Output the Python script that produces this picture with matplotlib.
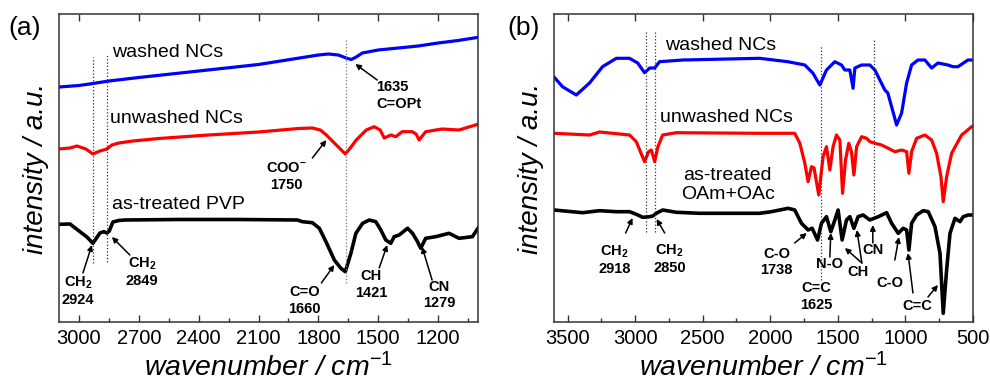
import matplotlib
matplotlib.use("Agg")
import matplotlib.pyplot as plt
from matplotlib.ticker import MultipleLocator

plt.rcParams['font.family'] = ['Liberation Sans', 'DejaVu Sans']
plt.rcParams['mathtext.fontset'] = 'custom'
plt.rcParams['mathtext.rm'] = 'Liberation Sans'
plt.rcParams['mathtext.it'] = 'Liberation Sans:italic'
plt.rcParams['mathtext.bf'] = 'Liberation Sans:bold'

## data, panel (a): PVP capped NCs
wnA_washed = [3100, 3000, 2930, 2850, 2700, 2400, 2100, 1800, 1750, 1700, 1660, 1635, 1610, 1580,
              1500, 1400, 1300, 1200, 1100, 1005]
intA_washed = [235, 236.5, 238.5, 241, 244.5, 251, 257.5, 267, 268, 267, 264, 262.5, 265, 269,
               272, 274, 276, 279, 281.5, 284.5]

wnA_unwashed = [3100, 3045, 3010, 2965, 2930, 2895, 2860, 2835, 2800, 2730, 2600, 2350, 2100, 1900,
                1830, 1790, 1760, 1720, 1690, 1665, 1640, 1610, 1560, 1520, 1490, 1470, 1437, 1412,
                1380, 1330, 1310, 1295, 1262, 1180, 1095, 1005]
intA_unwashed = [173, 174, 176, 173, 168, 171, 173, 177, 179, 181, 183.5, 187, 190, 193.5,
                 194, 192, 187, 179, 173, 168, 174, 182, 192, 195.3, 192, 184, 187, 185.3,
                 190.3, 190.3, 188, 182, 190.3, 193, 192, 197.5]

wnA_pvp = [3100, 3045, 2995, 2960, 2930, 2895, 2875, 2860, 2848, 2830, 2800, 2770, 2500, 2200,
           1905, 1880, 1830, 1795, 1762, 1720, 1687, 1665, 1637, 1612, 1578, 1545, 1512, 1487,
           1462, 1437, 1420, 1395, 1353, 1328, 1303, 1287, 1262, 1212, 1145, 1095, 1028, 1000]
intA_pvp = [97.7, 98, 90.3, 85, 78.7, 89, 90.3, 89, 91, 100, 101.5, 102, 102.5, 102.5,
            102, 100.3, 99.3, 93.7, 80.3, 62, 53.7, 50.3, 68.7, 88.7, 98.7, 102, 100.3, 92,
            82, 78.7, 85.3, 87, 93.7, 88.7, 80.3, 73.7, 83.7, 85.3, 88.7, 83.7, 85.3, 93.7]

## data, panel (b): OAm+OAc capped NCs
wnB_washed = [3600, 3537, 3435, 3337, 3241, 3139, 3041, 2981, 2930, 2892, 2855, 2819, 2648, 2078,
              1870, 1744, 1685, 1633, 1584, 1522, 1473, 1448, 1411, 1387, 1374, 1324, 1263, 1226,
              1189, 1152, 1130, 1102, 1065, 1028, 991, 954, 907, 856, 806, 759, 685, 648, 611,
              537, 500]
intB_washed = [245, 235.3, 227, 239, 255.3, 263.7, 263.7, 259, 249.3, 254, 254, 260.3, 262, 263.7,
               260.3, 257, 249, 237, 252, 260.3, 257, 252, 252, 233.7, 254, 257, 257, 252,
               242, 232, 229, 215.3, 197, 209, 239, 257, 262, 262, 254, 259, 257, 255.3, 255.3,
               262, 262]

wnB_unwashed = [3600, 3337, 3263, 3041, 2991, 2961, 2930, 2900, 2880, 2855, 2831, 2796, 2695, 2078,
                1819, 1781, 1744, 1720, 1695, 1676, 1641, 1609, 1584, 1559, 1535, 1510, 1485, 1465,
                1443, 1419, 1399, 1381, 1361, 1324, 1287, 1263, 1226, 1176, 1127, 1078, 1028, 991,
                974, 954, 917, 856, 806, 769, 737, 720, 695, 658, 584, 510, 500]
intB_unwashed = [188.7, 187, 190, 187, 180.3, 170.3, 160.3, 170.3, 172, 160.3, 175.3, 187, 189.3, 188.7,
                 188.7, 178.7, 158.7, 140.3, 155.3, 154, 127, 165.3, 175.3, 152, 175.3, 187, 182, 128.7,
                 162, 178.7, 170.3, 147, 175.3, 185.3, 183.7, 180.3, 178.7, 177, 173.7, 170.3, 172, 170.3,
                 148.7, 170.3, 183.7, 187, 182, 168.7, 145.3, 120.3, 145.3, 168.7, 187, 195.3, 196]

wnB_oam = [3600, 3389, 3263, 3139, 3041, 2991, 2944, 2892, 2868, 2843, 2796, 2695, 2522, 2078,
           1991, 1868, 1819, 1769, 1720, 1690, 1650, 1621, 1584, 1552, 1522, 1498, 1468, 1436,
           1411, 1381, 1350, 1313, 1263, 1201, 1139, 1102, 1053, 1016, 991, 974, 954, 917,
           868, 831, 781, 744, 720, 695, 670, 633, 596, 572, 535, 500]
intB_oam = [112, 109.3, 111.3, 110.3, 110.3, 107.7, 104.7, 105.3, 106, 108.7, 112, 109.7, 108.7, 108.7,
            110.3, 113.7, 112, 98.7, 92, 93.7, 82, 98.7, 105.3, 90.3, 102, 112, 82, 102,
            105.3, 93.7, 105.3, 107, 102, 105.3, 109.3, 98.7, 88.7, 93.7, 92, 72, 98.7, 107,
            111.3, 110.3, 95.3, 68.7, 8.7, 52, 88.7, 103.7, 100.3, 105.3, 107, 107]

fig = plt.figure(figsize=(9.9, 3.87), dpi=100)
axA = fig.add_axes([0.0596, 0.168, 0.4232, 0.7958])
axB = fig.add_axes([0.5596, 0.168, 0.4232, 0.7958])

def styleAxis(ax, xmin, xmax, major, minor):
    ax.set_xlim(xmin, xmax)
    ax.set_ylim(0, 308)
    ax.xaxis.set_major_locator(MultipleLocator(major))
    ax.xaxis.set_minor_locator(MultipleLocator(minor))
    ax.tick_params(axis='x', which='major', direction='in', length=5, width=1, top=True,
                   labelsize=14.5, pad=5, color='#333333')
    ax.tick_params(axis='x', which='minor', direction='in', length=3, width=1, top=False,
                   color='#333333')
    ax.set_yticks([])
    for s in ax.spines.values():
        s.set_linewidth(1.1)
        s.set_color('#333333')
    ax.set_xlabel(r"wavenumber / cm$^{\mathit{-1}}$", fontsize=20.5, style='italic', labelpad=4)
    ax.set_ylabel("intensity / a.u.", fontsize=20, style='italic', labelpad=7)

def arrow(ax, tail, tip):
    ax.annotate('', xy=tip, xytext=tail,
                arrowprops=dict(arrowstyle='-|>', color='k', lw=1.1, mutation_scale=8,
                                shrinkA=0, shrinkB=0))

bold = dict(fontsize=10.5, fontweight='bold', ha='center', va='center', linespacing=1.2)
lbl = dict(fontsize=14, va='center')

## panel (a)
styleAxis(axA, 3100, 1000, 300, 150)
axA.plot(wnA_washed, intA_washed, color='#0000ff', lw=2.3)
axA.plot(wnA_unwashed, intA_unwashed, color='#ff0000', lw=2.3)
axA.plot(wnA_pvp, intA_pvp, color='k', lw=2.6)
axA.vlines([2930, 2860], [59, 60], [265, 267], colors='#333333', linestyles=':', lw=0.9)
axA.vlines([1660], [39], [284], colors='#777777', linestyles=':', lw=0.9)

axA.text(2835, 270, "washed NCs", **lbl)
axA.text(2845, 204, "unwashed NCs", **lbl)
axA.text(2835, 117, "as-treated PVP", **lbl)

axA.text(1510, 226.5, "1635\nC=OPt", fontsize=10.5, fontweight='bold', ha='left', va='center', linespacing=1.25)
arrow(axA, (1505, 242), (1615, 258))
axA.text(1960, 145.5, "COO$^{\\mathbf{-}}$\n1750", **bold)
arrow(axA, (1830, 164), (1760, 182))
axA.text(3005, 31, "CH$_{\\mathbf{2}}$\n2924", **bold)
arrow(axA, (2980, 49), (2935, 77))
axA.text(2685, 50, "CH$_{\\mathbf{2}}$\n2849", **bold)
arrow(axA, (2745, 67), (2835, 85))
axA.text(1870, 21.5, "C=O\n1660", **bold)
arrow(axA, (1785, 39), (1720, 57))
axA.text(1535, 37.5, "CH\n1421", **bold)
arrow(axA, (1495, 54), (1455, 77))
axA.text(1195, 27, "CN\n1279", **bold)
arrow(axA, (1230, 42), (1280, 75))

## panel (b)
styleAxis(axB, 3600, 500, 500, 250)
axB.plot(wnB_washed, intB_washed, color='#0000ff', lw=2.3)
axB.plot(wnB_unwashed, intB_unwashed, color='#ff0000', lw=2.3)
axB.plot(wnB_oam, intB_oam, color='k', lw=2.6)
axB.vlines([2918, 2850], [90, 90], [292, 292], colors='#333333', linestyles=':', lw=0.9)
axB.vlines([1625, 1231], [42, 105], [277, 282], colors='#333333', linestyles=':', lw=0.9)

axB.text(2781, 277, "washed NCs", **lbl)
axB.text(2819, 205, "unwashed NCs", **lbl)
axB.text(2315, 137, "as-treated\nOAm+OAc", fontsize=14, ha='center', va='center', linespacing=1.1)

axB.text(3152, 62.5, "CH$_{\\mathbf{2}}$\n2918", **bold)
arrow(axB, (3070, 89), (3019, 104))
axB.text(2744, 63.5, "CH$_{\\mathbf{2}}$\n2850", **bold)
arrow(axB, (2781, 89), (2841, 103))
axB.text(1952, 60, "C-O\n1738", **bold)
arrow(axB, (1819, 79), (1730, 89))
axB.text(1656, 25.5, "C=C\n1625", **bold)
axB.text(1559, 58, "N-O", **bold)
arrow(axB, (1559, 65), (1552, 89))
axB.text(1352, 50, "CH", **bold)
arrow(axB, (1322, 59), (1448, 74))
arrow(axB, (1322, 59), (1359, 92))
axB.text(1241, 72, "CN", **bold)
arrow(axB, (1241, 79), (1241, 97))
axB.text(1115, 39, "C-O", **bold)
arrow(axB, (1078, 62), (1048, 85))
axB.text(915, 16, "C=C", **bold)
arrow(axB, (944, 29), (981, 69))
arrow(axB, (833, 25), (759, 37))

fig.text(0.008, 0.928, "(a)", fontsize=19, va='center')
fig.text(0.512, 0.928, "(b)", fontsize=19, va='center')

fig.savefig("out.png", dpi=100)
